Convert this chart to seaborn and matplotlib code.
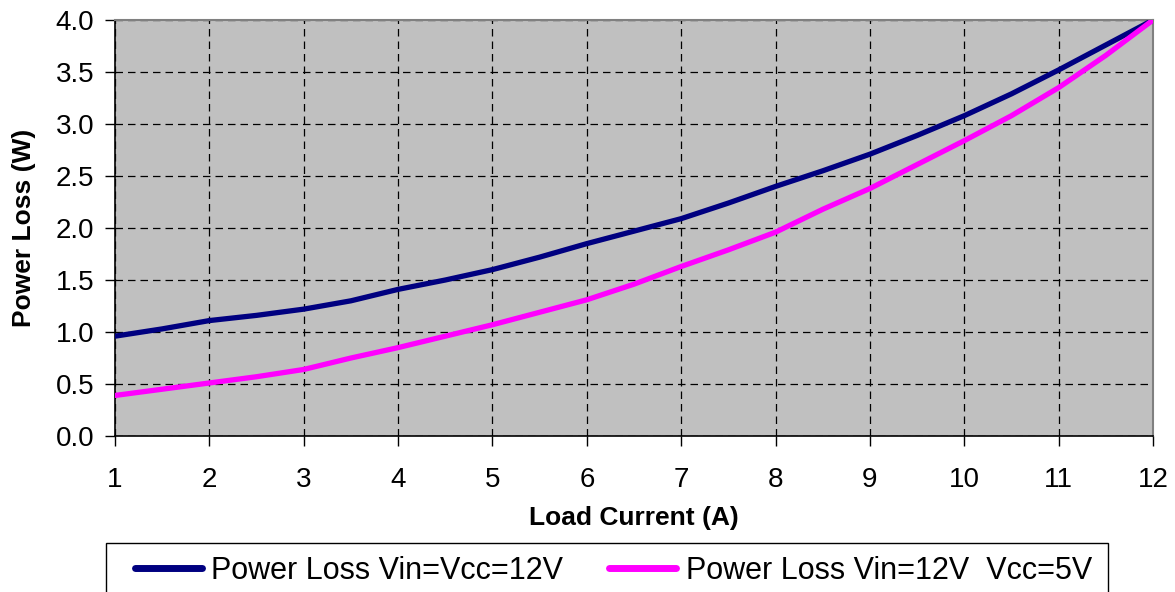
import pandas as pd
from matplotlib import pyplot as plt
from matplotlib.patches import Rectangle
import seaborn as sns
import numpy as np

# load current [A]
current = [1, 1.5, 2, 2.5, 3, 3.5, 4, 4.5, 5, 5.5, 6, 6.5, 7, 7.5, 8, 8.5,
           9, 9.5, 10, 10.5, 11, 11.5, 12]
# power loss [W]
loss_12v = [0.96, 1.03, 1.11, 1.16, 1.22, 1.30, 1.41, 1.50, 1.60, 1.72, 1.85, 1.97,
            2.09, 2.24, 2.40, 2.55, 2.71, 2.89, 3.08, 3.29, 3.52, 3.76, 4.00]
loss_5v = [0.39, 0.45, 0.51, 0.57, 0.64, 0.75, 0.85, 0.96, 1.07, 1.19, 1.31, 1.46,
           1.63, 1.79, 1.96, 2.18, 2.38, 2.61, 2.84, 3.08, 3.35, 3.66, 4.00]
series_names = ["Power Loss Vin=Vcc=12V", "Power Loss Vin=12V  Vcc=5V"]
y_ticks = [0.0, 0.5, 1.0, 1.5, 2.0, 2.5, 3.0, 3.5, 4.0]
x_ticks = list(range(1, 13))

data = pd.DataFrame({
    "current": current * 2,
    "loss": loss_12v + loss_5v,
    "process": [series_names[0]] * len(current) + [series_names[1]] * len(current),
})

sns.set_style('ticks')
plt.rcParams['font.family'] = ['Liberation Sans', 'DejaVu Sans']
plt.rcParams['text.color'] = 'black'
plt.rcParams['axes.labelcolor'] = 'black'
plt.rcParams['xtick.color'] = 'black'
plt.rcParams['ytick.color'] = 'black'

fig = plt.figure(figsize=(11.75, 5.92), dpi=100)
ax = fig.add_axes([0.0979, 0.2635, 0.8834, 0.7027])
ax.set_facecolor('#c0c0c0')

pal = {series_names[0]: '#000080', series_names[1]: '#ff00ff'}
sns.lineplot(x="current", y="loss", hue="process", data=data, palette=pal,
             lw=3.8, ax=ax, legend=False, zorder=3)

ax.set_xlim(1, 12)
ax.set_ylim(0, 4)
ax.set_xticks(x_ticks)
ax.set_yticks(y_ticks)
ax.set_yticklabels(['{:.1f}'.format(v) for v in y_ticks])
ax.grid(True, color='black', linestyle=(0, (6, 4)), linewidth=0.9)
ax.tick_params(labelsize=20, length=7, width=1, direction='out', pad=8)
ax.tick_params(axis='x', pad=15)

for s in ['left', 'bottom']:
    ax.spines[s].set_color('black')
    ax.spines[s].set_linewidth(1.2)
for s in ['top', 'right']:
    ax.spines[s].set_color('#808080')
    ax.spines[s].set_linewidth(1.5)

ax.set_xlabel('Load Current (A)', fontsize=19, fontweight='bold', labelpad=10)
ax.set_ylabel('Power Loss (W)', fontsize=19, fontweight='bold', labelpad=14)

# legend frame, running off the bottom edge
fig.patches.append(Rectangle((106 / 1175, -0.05), 1002 / 1175, 0.05 + 49 / 592,
                             transform=fig.transFigure, facecolor='white',
                             edgecolor='black', lw=1.0, zorder=0))

handles = [plt.Line2D([], [], color=pal[n], lw=5) for n in series_names]
leg = fig.legend(handles, series_names, loc='upper left',
                 bbox_to_anchor=(135 / 1175, 1 - 556 / 592),
                 ncol=2, fontsize=22, frameon=False,
                 handlelength=2.2, handletextpad=0.3, borderpad=0,
                 borderaxespad=0, columnspacing=1.5)

fig.savefig('out.png', dpi=100)
